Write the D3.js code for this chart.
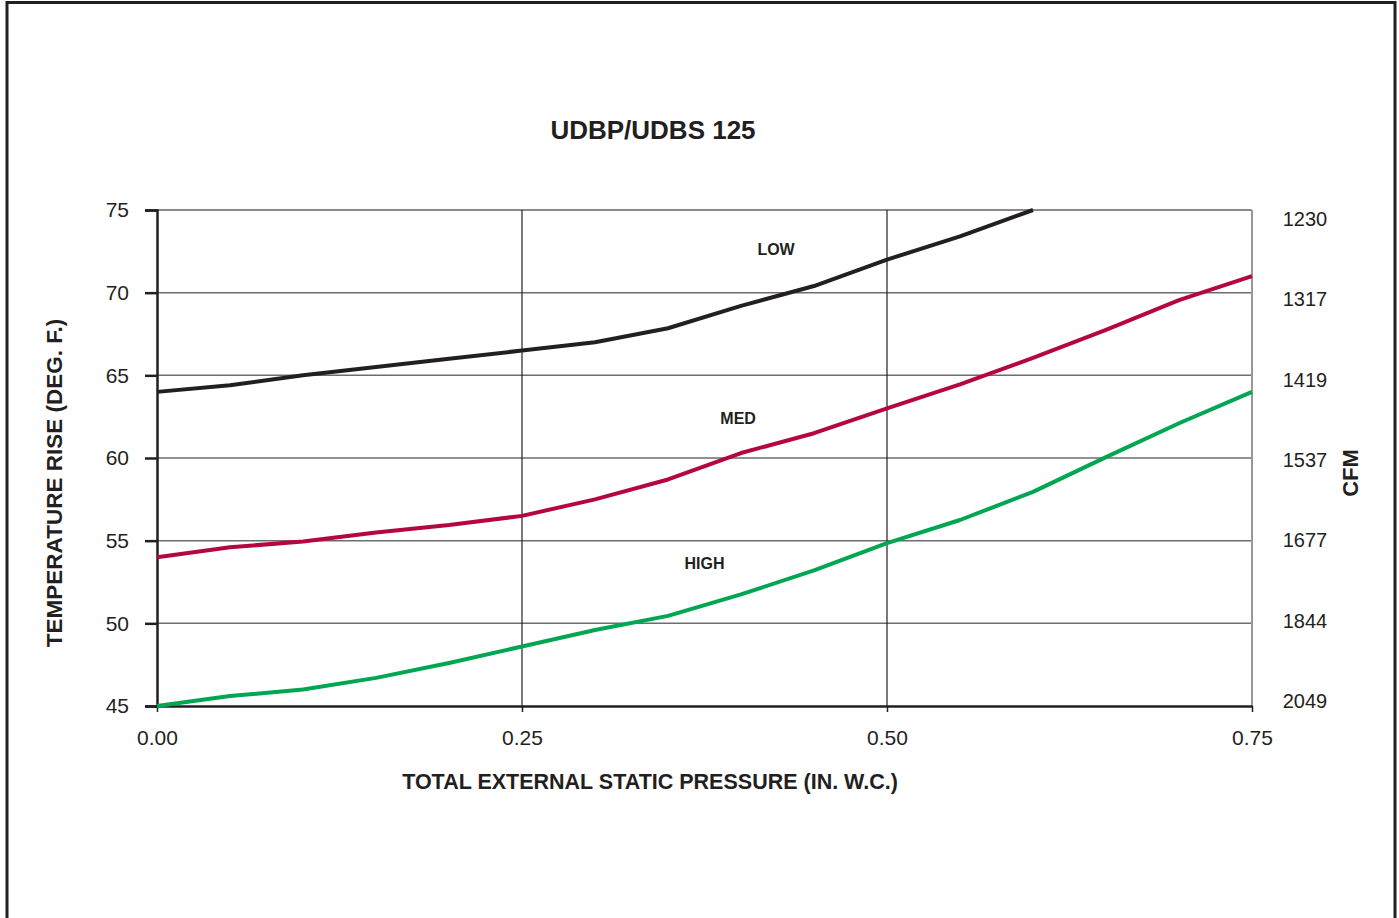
<!DOCTYPE html>
<html><head><meta charset="utf-8">
<script src="https://cdn.jsdelivr.net/npm/d3@7"></script>
<style>body{margin:0;background:#fff;}svg{display:block;font-family:"Liberation Sans",Arial,sans-serif;}</style>
</head><body>
<svg id="c" width="1399" height="918"></svg>
<script>
const pressure = [0,0.05,0.1,0.15,0.2,0.25,0.3,0.35,0.4,0.45,0.5,0.55,0.6,0.65,0.7,0.75];
const lowRise  = [64,64.4,65,65.5,66,66.5,67,67.85,69.2,70.4,72,73.4,75];
const medRise  = [54,54.6,54.95,55.5,55.95,56.5,57.5,58.7,60.3,61.5,63,64.45,66.05,67.75,69.55,71];
const highRise = [45,45.6,46,46.7,47.6,48.6,49.6,50.45,51.75,53.2,54.85,56.25,57.95,60.05,62.1,64];
const seriesNames = ["LOW","MED","HIGH"];
const xTicks = [0,0.25,0.5,0.75];
const yTicks = [45,50,55,60,65,70,75];
const cfmLabels = ["2049","1844","1677","1537","1419","1317","1230"];

const svg = d3.select("#c");
const L=157,R=1252,T=210,B=706;
const x = d3.scaleLinear().domain([0,0.75]).range([L,R]);
const y = d3.scaleLinear().domain([45,75]).range([B,T]);
const yCfm = d3.scalePoint().domain(cfmLabels).range([701,219]);

// frame
svg.append("path").attr("d","M7,930 L7,2.5 L1395,2.5 L1395,930").attr("fill","none").attr("stroke","#231f20").attr("stroke-width",3);

// horizontal grid
svg.append("g").selectAll("line").data(yTicks.filter(d=>d>45)).join("line")
  .attr("x1",L).attr("x2",R).attr("y1",d=>y(d)).attr("y2",d=>y(d))
  .attr("stroke",d=>d===75?"#8a8a8a":"#6d6d6d").attr("stroke-width",d=>d===75?2:1.5);
// vertical grid
svg.append("g").selectAll("line").data([0.25,0.5]).join("line")
  .attr("x1",d=>x(d)).attr("x2",d=>x(d)).attr("y1",T).attr("y2",B)
  .attr("stroke","#231f20").attr("stroke-width",1.2);
svg.append("line").attr("x1",x(0.75)).attr("x2",x(0.75)).attr("y1",T).attr("y2",B)
  .attr("stroke","#999").attr("stroke-width",2);

// left axis
const yAxis = d3.axisLeft(y).tickValues(yTicks).tickSize(12).tickPadding(16).tickFormat(d3.format("d"));
const gy = svg.append("g").attr("transform",`translate(${L},0)`).call(yAxis);
gy.select(".domain").attr("stroke","#231f20").attr("stroke-width",2.5);
gy.selectAll(".tick line").attr("stroke","#231f20").attr("stroke-width",2.5);
gy.selectAll(".tick text").attr("font-size",21).attr("fill","#231f20").attr("font-family","Liberation Sans, Arial, sans-serif");

// bottom axis
const xAxis = d3.axisBottom(x).tickValues(xTicks).tickSize(6).tickSizeOuter(0).tickPadding(18).tickFormat(d3.format(".2f"));
const gx = svg.append("g").attr("transform",`translate(0,${B})`).call(xAxis);
gx.select(".domain").attr("stroke","#231f20").attr("stroke-width",2.5);
gx.selectAll(".tick line").attr("stroke","#231f20").attr("stroke-width",1.5);
gx.selectAll(".tick text").attr("font-size",21).attr("fill","#231f20").attr("font-family","Liberation Sans, Arial, sans-serif");

// right CFM labels
svg.append("g").selectAll("text").data(cfmLabels).join("text")
  .attr("x",1305).attr("y",d=>yCfm(d)).attr("dy","0.35em").attr("text-anchor","middle")
  .attr("font-size",20).attr("fill","#231f20").text(d=>d);

// lines
const line = d3.line().x((d,i)=>x(pressure[i])).y(d=>y(d));
const colors = ["#231f20","#b5063f","#00a651"];
[lowRise,medRise,highRise].forEach((s,k)=>{
  svg.append("path").datum(s).attr("d",line).attr("fill","none")
    .attr("stroke",colors[k]).attr("stroke-width",4).attr("stroke-linejoin","round");
});

// series labels
const labelPos = [[0.424,72.6],[0.398,62.4],[0.375,53.6]];
seriesNames.forEach((n,k)=>{
  svg.append("text").attr("x",x(labelPos[k][0])).attr("y",y(labelPos[k][1])).attr("dy","0.35em")
    .attr("text-anchor","middle").attr("font-size",16).attr("font-weight","bold").attr("fill","#231f20").text(n);
});

// title and axis titles
svg.append("text").attr("x",653).attr("y",130).attr("dy","0.35em").attr("text-anchor","middle")
  .attr("font-size",26).attr("font-weight","bold").attr("fill","#231f20").text("UDBP/UDBS 125");
svg.append("text").attr("x",650).attr("y",781).attr("dy","0.35em").attr("text-anchor","middle")
  .attr("font-size",21.5).attr("font-weight","bold").attr("fill","#231f20").text("TOTAL EXTERNAL STATIC PRESSURE (IN. W.C.)");
svg.append("text").attr("transform","translate(54,483) rotate(-90)").attr("dy","0.35em").attr("text-anchor","middle")
  .attr("font-size",22.5).attr("font-weight","bold").attr("fill","#231f20").text("TEMPERATURE RISE (DEG. F.)");
svg.append("text").attr("transform","translate(1350,473) rotate(-90)").attr("dy","0.35em").attr("text-anchor","middle")
  .attr("font-size",22).attr("font-weight","bold").attr("fill","#231f20").text("CFM");
</script>
</body></html>
